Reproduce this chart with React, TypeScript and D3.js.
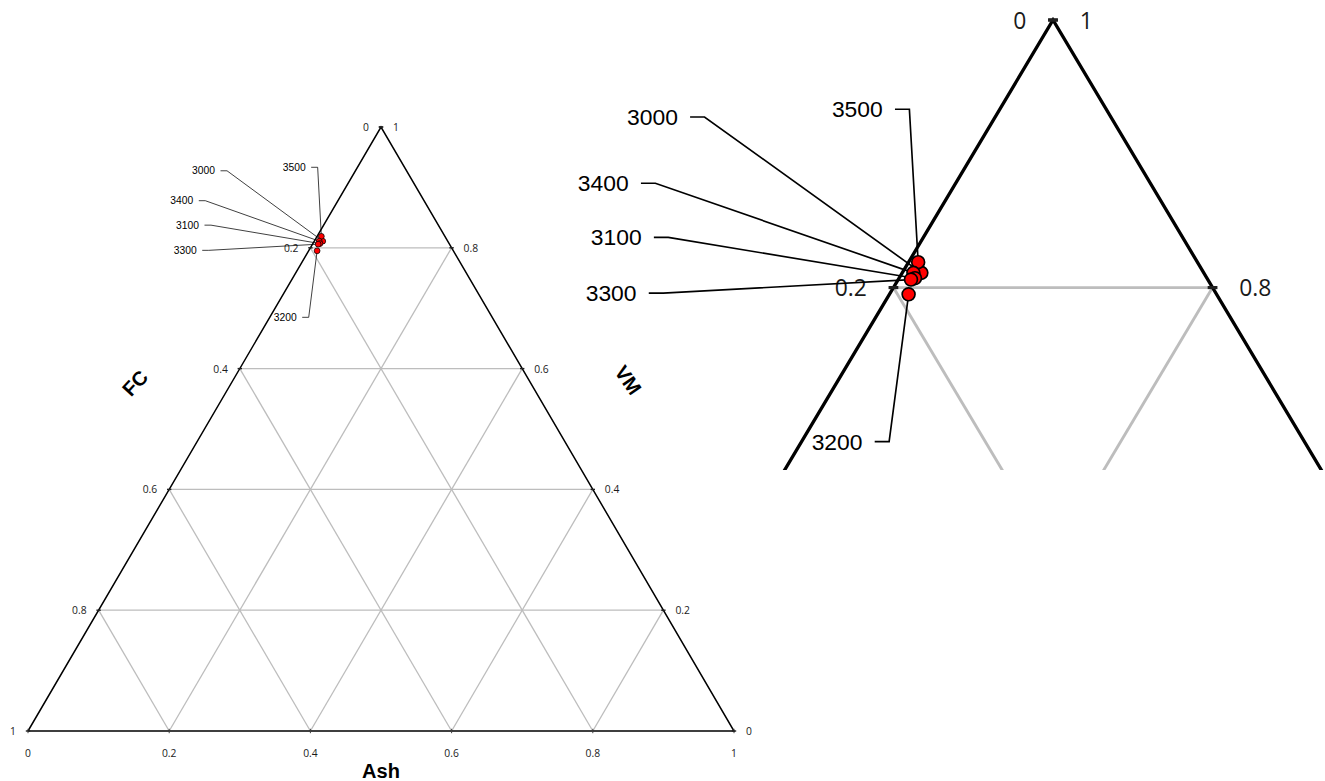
import React from "react";
import * as d3 from "d3";

const ticks = [0, 0.2, 0.4, 0.6, 0.8, 1];
const tickLabels = ["0", "0.2", "0.4", "0.6", "0.8", "1"];

const samples = ["3000", "3500", "3400", "3100", "3300", "3200"];
const ash = [0.012, 0.006, 0.007, 0.01, 0.008, 0.012];
const vm = [0.811, 0.819, 0.811, 0.807, 0.806, 0.795];
const fc = [0.177, 0.175, 0.182, 0.183, 0.186, 0.193];

// data label anchors (right end of text), in triangle plane units
const labelU = [0.2649, 0.3933, 0.2341, 0.2422, 0.239, 0.3806];
const labelV = [0.9275, 0.9333, 0.878, 0.8375, 0.7958, 0.6849];

type Scale = d3.ScaleLinear<number, number>;
type Box = [number, number, number, number];

// composition -> plane: FC at bottom-left, Ash at bottom-right, VM at top
function toPlane(a: number, v: number, f: number): [number, number] {
  const s = a + v + f;
  return [(a + v / 2) / s, v / s];
}

function Ternary({ x, y, k, box, showTitles }: { x: Scale; y: Scale; k: number; box: Box; showTitles?: boolean }) {
  const line = d3
    .line<[number, number]>()
    .x(d => x(d[0]))
    .y(d => y(d[1]));

  const inView = (px: number, py: number) => px >= box[0] && px <= box[2] && py >= box[1] && py <= box[3];

  const inner = ticks.slice(1, -1);
  const grid: [number, number][][] = inner.flatMap(t => [
    [[t / 2, t], [1 - t / 2, t]] as [number, number][],
    [[t, 0], [(1 + t) / 2, 1 - t]] as [number, number][],
    [[1 - t, 0], [(1 - t) / 2, 1 - t]] as [number, number][]
  ]);

  const edge: [number, number][] = [[0, 0], [1, 0], [0.5, 1], [0, 0]];

  const tickFont = 10.3 * k;
  const gap = 12 * k;
  const dash = 2.2 * k;
  const tickColor = "#1a1a1a";

  const pts = samples.map((_, i) => toPlane(ash[i], vm[i], fc[i]));

  return (
    <g>
      {grid.map((g, i) => (
        <path key={"g" + i} d={line(g) || ""} fill="none" stroke="#bdbdbd" strokeWidth={1.3 * k} />
      ))}
      <path d={line(edge) || ""} fill="none" stroke="#000" strokeWidth={1.5 * k} strokeLinejoin="miter" />

      {/* bottom axis: Ash */}
      {ticks.map((t, i) => {
        const px = x(t);
        const py = y(0);
        if (!inView(px, py)) return null;
        return (
          <g key={"b" + i}>
            <line x1={px} x2={px} y1={py - dash} y2={py + dash} stroke="#404040" strokeWidth={1 * k} />
            <text
              x={px}
              y={py + 21.7 * k}
              fontSize={tickFont}
              fontFamily="Open Sans, sans-serif"
              textAnchor="middle"
              dominantBaseline="central"
              fill={tickColor}
            >
              {tickLabels[i]}
            </text>
          </g>
        );
      })}

      {/* left axis: FC */}
      {ticks.map((t, i) => {
        const px = x((1 - t) / 2);
        const py = y(1 - t);
        if (!inView(px, py)) return null;
        return (
          <g key={"l" + i}>
            <line x1={px - dash} x2={px + dash} y1={py} y2={py} stroke="#202020" strokeWidth={1.4 * k} />
            <text
              x={px - gap}
              y={py}
              fontSize={tickFont}
              fontFamily="Open Sans, sans-serif"
              textAnchor="end"
              dominantBaseline="central"
              fill={tickColor}
            >
              {tickLabels[i]}
            </text>
          </g>
        );
      })}

      {/* right axis: VM */}
      {ticks.map((t, i) => {
        const px = x(1 - t / 2);
        const py = y(t);
        if (!inView(px, py)) return null;
        return (
          <g key={"r" + i}>
            <line x1={px - dash} x2={px + dash} y1={py} y2={py} stroke="#202020" strokeWidth={1.4 * k} />
            <text
              x={px + gap}
              y={py}
              fontSize={tickFont}
              fontFamily="Open Sans, sans-serif"
              textAnchor="start"
              dominantBaseline="central"
              fill={tickColor}
            >
              {tickLabels[i]}
            </text>
          </g>
        );
      })}

      {showTitles && (
        <g fontFamily="Liberation Sans, Arial, sans-serif" fontWeight="bold" fontSize={20} fill="#000">
          <text x={x(0.5)} y={y(-0.066)} textAnchor="middle" dominantBaseline="central">
            Ash
          </text>
          <text
            transform={`translate(${x(0.1516)},${y(0.576)}) rotate(-47)`}
            textAnchor="middle"
            dominantBaseline="central"
          >
            FC
          </text>
          <text
            transform={`translate(${x(0.85)},${y(0.581)}) rotate(55)`}
            textAnchor="middle"
            dominantBaseline="central"
          >
            VM
          </text>
        </g>
      )}

      {/* data labels with leader lines */}
      {samples.map((s, i) => {
        const lx = x(labelU[i]);
        const ly = y(labelV[i]);
        const [pu, pv] = pts[i];
        const path = d3.path();
        path.moveTo(lx + 5.5 * k, ly);
        path.lineTo(lx + 12 * k, ly);
        path.lineTo(x(pu), y(pv));
        return (
          <g key={"d" + i}>
            <path d={path.toString()} fill="none" stroke="#000" strokeWidth={0.75 * k} />
            <text
              x={lx}
              y={ly}
              fontSize={10.3 * k}
              fontFamily="Liberation Sans, Arial, sans-serif"
              textAnchor="end"
              dominantBaseline="central"
              fill="#000"
            >
              {s}
            </text>
          </g>
        );
      })}

      {pts.map(([pu, pv], i) => (
        <circle key={"p" + i} cx={x(pu)} cy={y(pv)} r={2.9 * k} fill="#ff0000" stroke="#000" strokeWidth={0.75 * k} />
      ))}
    </g>
  );
}

export default function App() {
  const width = 1325,
    height = 781;

  const mainX = d3.scaleLinear().domain([0, 1]).range([28, 734]);
  const mainY = d3.scaleLinear().domain([0, 1]).range([731, 127]);

  // enlarged view of the top corner
  const zoomX = d3.scaleLinear().domain([0, 1]).range([255.2, 1850.8]);
  const zoomY = d3.scaleLinear().domain([0, 1]).range([1357.9, 20]);
  const zoomBox: Box = [560, 0, 1325, 470];

  return (
    <svg width={width} height={height} style={{ position: "absolute", left: 0, top: 0, background: "#fff" }}>
      <defs>
        <clipPath id="zoomClip">
          <rect x={zoomBox[0]} y={zoomBox[1]} width={zoomBox[2] - zoomBox[0]} height={zoomBox[3] - zoomBox[1]} />
        </clipPath>
      </defs>
      <Ternary x={mainX} y={mainY} k={1} box={[0, 0, width, height]} showTitles />
      <g clipPath="url(#zoomClip)">
        <Ternary x={zoomX} y={zoomY} k={2.22} box={zoomBox} />
      </g>
    </svg>
  );
}
